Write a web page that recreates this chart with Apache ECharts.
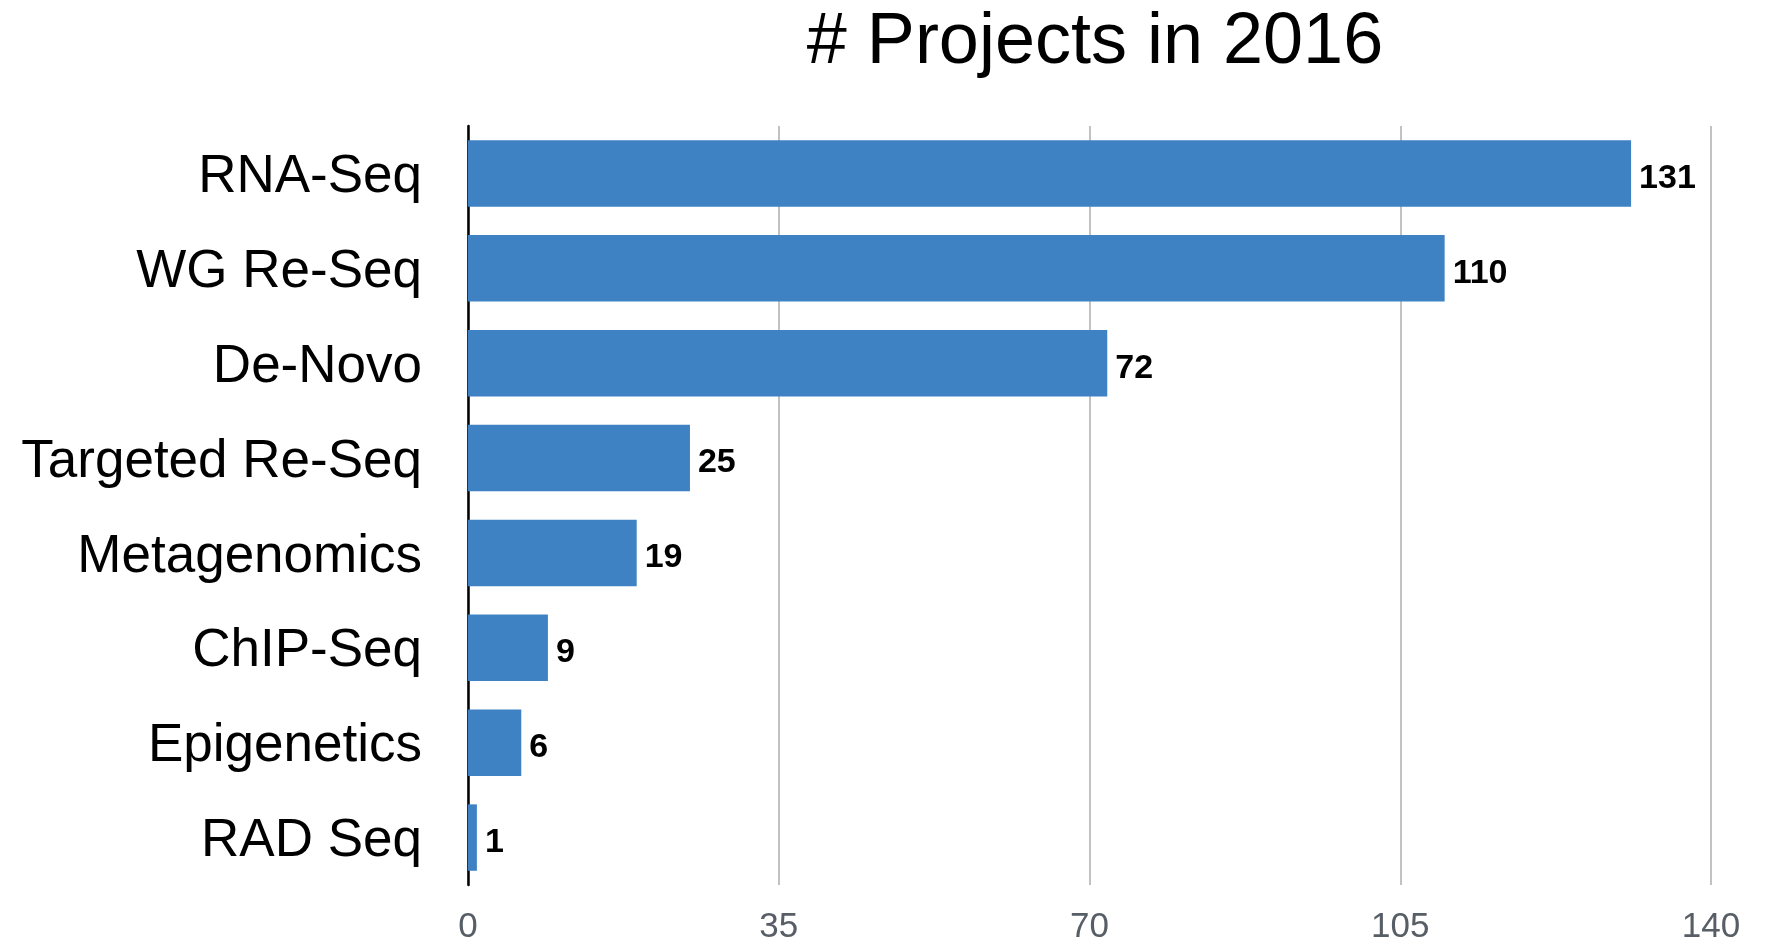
<!DOCTYPE html>
<html>
<head>
<meta charset="utf-8">
<script src="https://cdn.jsdelivr.net/npm/echarts@6/dist/echarts.min.js"></script>
<style>
html,body{margin:0;padding:0;background:#fff;}
#chart{width:1771px;height:941px;}
</style>
</head>
<body>
<div id="chart"></div>
<script>
const titleText = '# Projects in 2016';
const categories = ['RNA-Seq','WG Re-Seq','De-Novo','Targeted Re-Seq','Metagenomics','ChIP-Seq','Epigenetics','RAD Seq'];
const projectCounts = [131,110,72,25,19,9,6,1];
const xTicks = {min:0, max:140, interval:35};

const chart = echarts.init(document.getElementById('chart'), null, {renderer:'canvas'});
chart.setOption({
  animation:false,
  backgroundColor:'#ffffff',
  title:{
    text:titleText,
    left:1090, top:2, textAlign:'center',
    textStyle:{fontFamily:'"Liberation Sans",Arial,sans-serif',fontWeight:'normal',fontSize:72,color:'#000'}
  },
  grid:{left:468,right:60,top:126,bottom:56,containLabel:false,outerBoundsMode:'none'},
  xAxis:{
    type:'value', min:xTicks.min, max:xTicks.max, interval:xTicks.interval,
    axisLine:{show:false}, axisTick:{show:false},
    axisLabel:{fontFamily:'"Liberation Sans",Arial,sans-serif',fontSize:35,color:'#575e66',margin:25},
    splitLine:{show:true,lineStyle:{color:'#c2c2c2',width:2}}
  },
  yAxis:{
    type:'category', data:categories, inverse:true,
    axisLine:{show:true,lineStyle:{color:'#000',width:2.5}},
    axisTick:{show:false},
    axisLabel:{fontFamily:'"Liberation Sans",Arial,sans-serif',fontSize:53,color:'#000',margin:46,verticalAlign:'top',lineHeight:8}
  },
  series:[{
    type:'bar', data:projectCounts, barCategoryGap:'30%',
    itemStyle:{color:'#3e82c3'},
    label:{show:true,position:'right',distance:8,offset:[0,5],fontFamily:'"Liberation Sans",Arial,sans-serif',fontWeight:'bold',fontSize:34,color:'#000'}
  }]
});
</script>
</body>
</html>
